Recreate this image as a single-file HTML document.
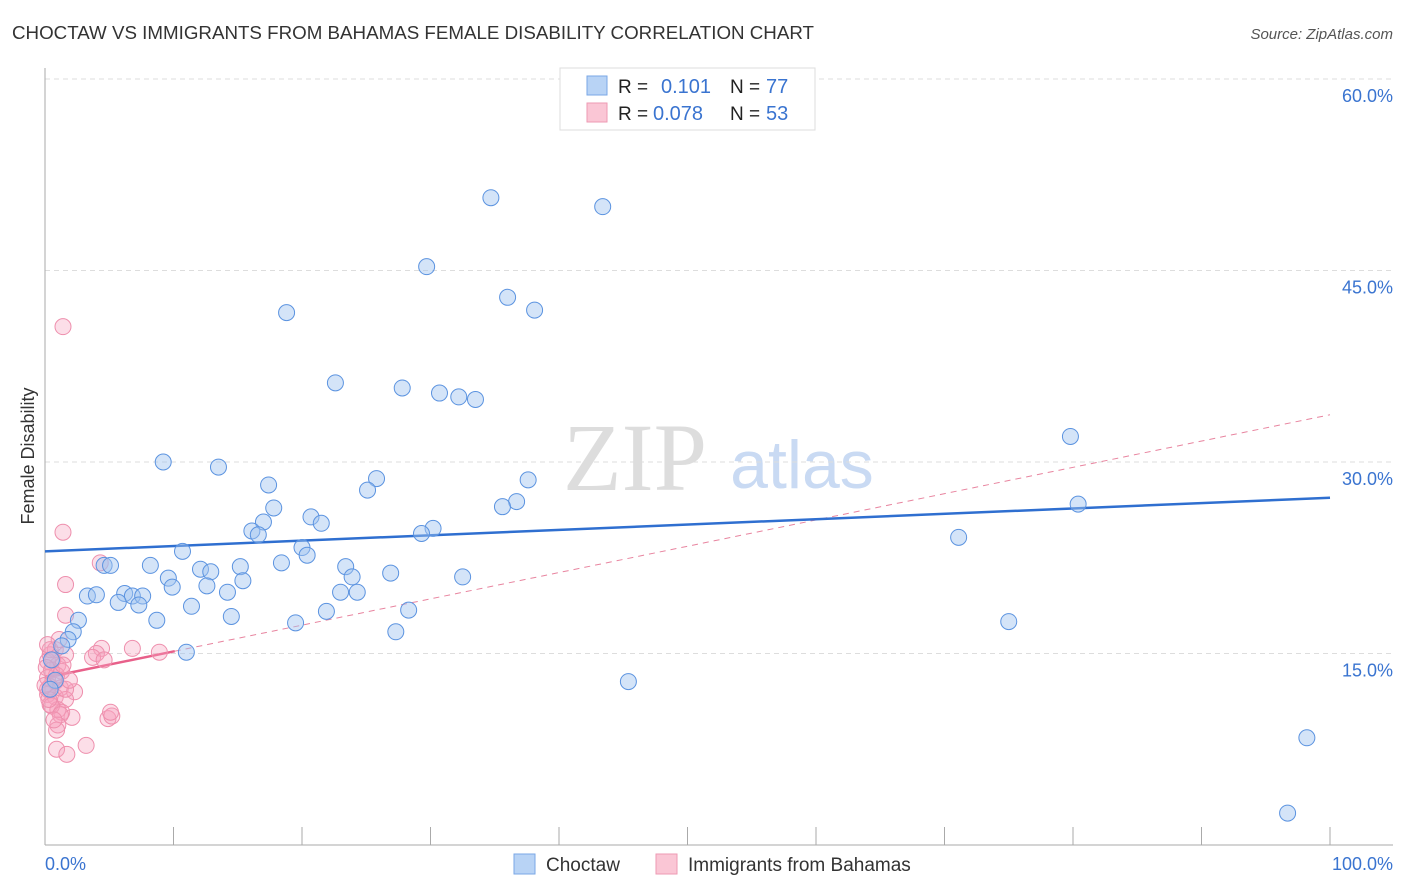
<!DOCTYPE html>
<html><head><meta charset="utf-8">
<style>
body{margin:0;background:#fff;font-family:"Liberation Sans",sans-serif;}
#wrap{position:relative;width:1406px;height:892px;overflow:hidden;}
</style></head>
<body>
<div id="wrap">
<svg id="chart" width="1406" height="892" style="position:absolute;left:0;top:0">
<text x="12" y="39" font-size="18" fill="#333" textLength="802" lengthAdjust="spacingAndGlyphs">CHOCTAW VS IMMIGRANTS FROM BAHAMAS FEMALE DISABILITY CORRELATION CHART</text>
<text x="1393" y="39" font-size="15" fill="#555" text-anchor="end" font-style="italic">Source: ZipAtlas.com</text>
<text x="34" y="456" font-size="18" fill="#333" text-anchor="middle" transform="rotate(-90 34 456)">Female Disability</text>
<g>
<text x="635" y="490" font-size="96" fill="#ddd" text-anchor="middle" font-family="Liberation Serif,serif">ZIP</text>
<text x="802" y="488" font-size="68" fill="#c9daf3" text-anchor="middle">atlas</text>
</g>
<g id="grid"></g><g id="axes"></g><g id="lines"></g><g id="pts"></g>
<g>
<rect x="560" y="68" width="255" height="62" fill="#fff" stroke="#ddd"/>
<rect x="587" y="76" width="20" height="19" fill="#b8d3f5" stroke="#7aa7e6"/>
<rect x="587" y="103" width="20" height="19" fill="#fac6d5" stroke="#ee9ab3"/>
<text x="618" y="93" font-size="19" fill="#222">R =</text>
<text x="661" y="93" font-size="20" fill="#3a74d0">0.101</text>
<text x="730" y="93" font-size="19" fill="#222">N =</text>
<text x="766" y="93" font-size="20" fill="#3a74d0">77</text>
<text x="618" y="120" font-size="19" fill="#222">R =</text>
<text x="653" y="120" font-size="20" fill="#3a74d0">0.078</text>
<text x="730" y="120" font-size="19" fill="#222">N =</text>
<text x="766" y="120" font-size="20" fill="#3a74d0">53</text>
</g>
<g>
<rect x="514" y="854" width="21" height="20" fill="#b8d3f5" stroke="#7aa7e6"/>
<text x="546" y="871" font-size="19" fill="#333">Choctaw</text>
<rect x="656" y="854" width="21" height="20" fill="#fac6d5" stroke="#ee9ab3"/>
<text x="688" y="871" font-size="19" fill="#333">Immigrants from Bahamas</text>
</g>
</svg>
</div>
<script>
const yTicks=[15,30,45,60];
const xTickLabels=["0.0%","100.0%"];
const blueX=[34.7,43.4,29.7,36.0,38.1,18.8,22.6,27.8,30.7,32.2,33.5,79.8,9.2,13.5,25.8,17.4,25.1,37.6,36.7,35.6,80.4,17.8,20.7,17.0,21.5,16.1,16.6,30.2,29.3,71.1,10.7,20.0,20.4,4.6,5.1,8.2,18.4,23.4,12.1,12.9,15.2,26.9,9.6,23.9,32.5,9.9,12.6,15.4,3.3,4.0,6.2,6.8,7.6,23.0,24.3,14.2,5.7,7.3,11.4,21.9,28.3,8.7,14.5,2.6,19.5,75.0,27.3,2.2,1.8,1.3,11.0,45.4,98.2,96.7,0.5,0.8,0.4];
const blueY=[50.7,50.0,45.3,42.9,41.9,41.7,36.2,35.8,35.4,35.1,34.9,32.0,30.0,29.6,28.7,28.2,27.8,28.6,26.9,26.5,26.7,26.4,25.7,25.3,25.2,24.6,24.3,24.8,24.4,24.1,23.0,23.3,22.7,21.9,21.9,21.9,22.1,21.8,21.6,21.4,21.8,21.3,20.9,21.0,21.0,20.2,20.3,20.7,19.5,19.6,19.7,19.5,19.5,19.8,19.8,19.8,19.0,18.8,18.7,18.3,18.4,17.6,17.9,17.6,17.4,17.5,16.7,16.7,16.1,15.6,15.1,12.8,8.4,2.5,14.5,12.9,12.2];
const pinkX=[1.4,1.4,4.3,1.6,1.6,4.4,6.8,8.9,4.0,3.7,4.6,0.8,0.4,1.6,0.2,1.0,0.5,1.3,0.2,0.8,0.4,1.2,0.2,2.3,0.8,1.6,0.4,1.0,1.3,0.5,2.1,1.2,4.9,5.2,5.1,1.0,0.9,3.2,0.9,1.7,0.4,0.2,0.6,0.9,0.1,1.4,0.3,0.7,1.6,1.9,0.0,1.1,0.2];
const pinkY=[40.6,24.5,22.1,20.4,18.0,15.4,15.4,15.1,15.0,14.7,14.5,15.3,14.9,14.9,14.4,14.1,13.7,13.6,13.1,12.8,12.4,12.3,11.8,12.0,11.6,11.4,11.0,10.6,10.4,10.9,10.0,10.2,9.9,10.1,10.4,9.4,9.0,7.8,7.5,7.1,15.3,12.2,14.5,13.3,13.9,14.1,11.4,9.8,12.2,12.9,12.5,16.1,15.7];
const blueTrend=[23.0,27.2];
const pinkTrend=[13.1,33.7];
const pinkSolidEnd=10.1;
const X0=45,X1=1330,Y0=845,PPU=191.5/15;
const sx=v=>X0+(X1-X0)*v/100, sy=v=>Y0-v*PPU;
const NS="http://www.w3.org/2000/svg";
function mk(t,a,p){const e=document.createElementNS(NS,t);for(const k in a)e.setAttribute(k,a[k]);p.appendChild(e);return e;}
const grid=document.getElementById('grid'),axes=document.getElementById('axes'),lines=document.getElementById('lines'),pts=document.getElementById('pts');
yTicks.forEach(t=>{
 const l=mk('line',{x1:X0,x2:1393,y1:sy(t),y2:sy(t),stroke:'#ddd','stroke-dasharray':'5,4'},grid);
 
 
 const tx=mk('text',{x:1393,y:sy(t)+23,'font-size':18,fill:'#3a74d0','text-anchor':'end'},axes);
 tx.textContent=t.toFixed(1)+'%';
 
 
});
const ya=mk('line',{x1:X0,x2:X0,y1:68,y2:Y0,stroke:'#aaa'},axes);


const xa=mk('line',{x1:X0,x2:1393,y1:Y0,y2:Y0,stroke:'#aaa'},axes);


for(let i=0;i<=10;i++){
 const t=mk('line',{x1:sx(i*10),x2:sx(i*10),y1:Y0-18,y2:Y0,stroke:'#aaa'},axes);
 
 
}
const xl0=mk('text',{x:X0,y:870,'font-size':18,fill:'#3a74d0'},axes);xl0.textContent=xTickLabels[0];


const xl1=mk('text',{x:1393,y:870,'font-size':18,fill:'#3a74d0','text-anchor':'end'},axes);xl1.textContent=xTickLabels[1];


const pv=x=>pinkTrend[0]+(pinkTrend[1]-pinkTrend[0])*x/100;
const pd=mk('line',{x1:sx(pinkSolidEnd),y1:sy(pv(pinkSolidEnd)),x2:sx(100),y2:sy(pinkTrend[1]),stroke:'#e8849f','stroke-dasharray':'6,5','stroke-width':1},lines);


const ps=mk('line',{x1:sx(0),y1:sy(pinkTrend[0]),x2:sx(pinkSolidEnd),y2:sy(pv(pinkSolidEnd)),stroke:'#e8608a','stroke-width':2.5},lines);


const bl=mk('line',{x1:sx(0),y1:sy(blueTrend[0]),x2:sx(100),y2:sy(blueTrend[1]),stroke:'#2f6fd0','stroke-width':2.5},lines);


pinkX.forEach((x,i)=>{const c=mk('circle',{cx:sx(x),cy:sy(pinkY[i]),r:8,fill:'rgba(246,160,188,0.35)',stroke:'#ee8fad','stroke-width':1},pts);
 
 });
blueX.forEach((x,i)=>{const c=mk('circle',{cx:sx(x),cy:sy(blueY[i]),r:8,fill:'rgba(160,196,240,0.45)',stroke:'#5b93e0','stroke-width':1},pts);
 
 });
</script>
</body></html>
